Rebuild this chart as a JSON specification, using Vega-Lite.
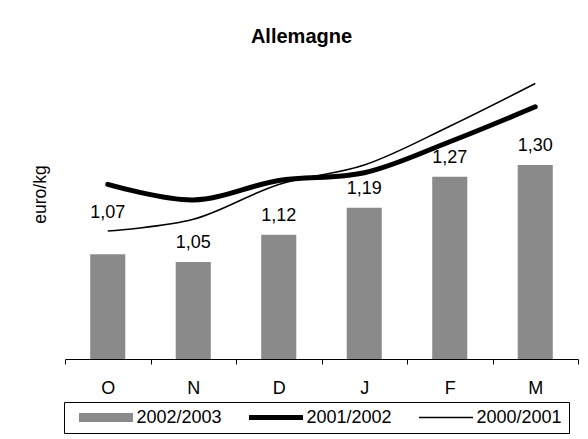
{
  "$schema": "https://vega.github.io/schema/vega-lite/v6.json",
  "width": 513,
  "height": 291,
  "autosize": {"type": "none"},
  "padding": {"left": 65, "top": 68, "right": 10, "bottom": 80},
  "background": "white",
  "title": {
    "text": "Allemagne",
    "fontSize": 20,
    "fontWeight": "bold",
    "font": "Liberation Sans",
    "color": "black",
    "anchor": "middle",
    "frame": "group",
    "dx": -20,
    "offset": 5,
    "baseline": "alphabetic"
  },
  "config": {
    "font": "Liberation Sans",
    "view": {"stroke": null},
    "locale": {"number": {"decimal": ",", "thousands": ".", "grouping": [3], "currency": ["", "€"]}}
  },
  "data": {
    "values": [
      {"month": "O", "series": "2002/2003", "value": 1.07},
      {"month": "N", "series": "2002/2003", "value": 1.05},
      {"month": "D", "series": "2002/2003", "value": 1.12},
      {"month": "J", "series": "2002/2003", "value": 1.19},
      {"month": "F", "series": "2002/2003", "value": 1.27},
      {"month": "M", "series": "2002/2003", "value": 1.30},
      {"month": "O", "series": "2001/2002", "value": 1.25},
      {"month": "N", "series": "2001/2002", "value": 1.21},
      {"month": "D", "series": "2001/2002", "value": 1.26},
      {"month": "J", "series": "2001/2002", "value": 1.28},
      {"month": "F", "series": "2001/2002", "value": 1.36},
      {"month": "M", "series": "2001/2002", "value": 1.45},
      {"month": "O", "series": "2000/2001", "value": 1.13},
      {"month": "N", "series": "2000/2001", "value": 1.16},
      {"month": "D", "series": "2000/2001", "value": 1.25},
      {"month": "J", "series": "2000/2001", "value": 1.30},
      {"month": "F", "series": "2000/2001", "value": 1.40},
      {"month": "M", "series": "2000/2001", "value": 1.51}
    ]
  },
  "encoding": {
    "x": {
      "field": "month",
      "type": "nominal",
      "sort": ["O", "N", "D", "J", "F", "M"],
      "scale": {"paddingInner": 0, "paddingOuter": 0},
      "axis": {
        "title": null,
        "labelAngle": 0,
        "labelFontSize": 18,
        "labelColor": "black",
        "labelPadding": 15,
        "domainColor": "black",
        "domainWidth": 1,
        "tickColor": "black",
        "tickWidth": 1,
        "tickSize": 5,
        "tickBand": "extent"
      }
    },
    "y": {
      "field": "value",
      "type": "quantitative",
      "scale": {"domain": [0.8, 1.55], "clamp": true, "zero": false, "nice": false},
      "axis": {
        "title": "euro/kg",
        "domain": false,
        "ticks": false,
        "labels": false,
        "grid": false,
        "titleFontSize": 17.5,
        "titleFontWeight": "normal",
        "titleColor": "black",
        "titleX": -20,
        "titleY": 126,
        "titleAngle": -90,
        "titleAlign": "center",
        "titleBaseline": "alphabetic"
      }
    }
  },
  "layer": [
    {
      "transform": [{"filter": "datum.series === '2002/2003'"}],
      "mark": {"type": "bar", "width": {"band": 0.41}},
      "encoding": {
        "color": {
          "field": "series",
          "type": "nominal",
          "scale": {"domain": ["2002/2003", "2001/2002", "2000/2001"], "range": ["#8a8a8a", "black", "black"]},
          "legend": {
            "title": null,
            "orient": "none",
            "legendX": -1,
            "legendY": 334,
            "direction": "horizontal",
            "strokeColor": "black",
            "fillColor": "white",
            "padding": 6.5,
            "labelFontSize": 18,
            "labelColor": "black",
            "labelFont": "Liberation Sans",
            "labelLimit": 200,
            "symbolSize": 2916,
            "symbolStrokeWidth": 0,
            "symbolOffset": 8.5,
            "labelOffset": 3.5,
            "columnPadding": 18,
            "clipHeight": 18,
            "encode": {
              "symbols": {
                "update": {
                  "shape": {"signal": "datum.value === '2002/2003' ? 'M-1,-0.17H1V0.17H-1Z' : (datum.value === '2001/2002' ? 'M-1,-0.093H1V0.093H-1Z' : 'M-1,-0.028H1V0.028H-1Z')"},
                  "fill": {"signal": "datum.value === '2002/2003' ? '#8a8a8a' : 'black'"},
                  "strokeWidth": {"value": 0},
                  "opacity": {"value": 1}
                }
              }
            }
          }
        }
      }
    },
    {
      "transform": [{"filter": "datum.series === '2002/2003' && datum.month !== 'O'"}],
      "mark": {"type": "text", "dy": -14, "baseline": "alphabetic", "fontSize": 18, "color": "black"},
      "encoding": {"text": {"field": "value", "type": "quantitative", "format": ".2f"}}
    },
    {
      "transform": [{"filter": "datum.series === '2002/2003' && datum.month === 'O'"}],
      "mark": {"type": "text", "dy": -36, "baseline": "alphabetic", "fontSize": 18, "color": "black"},
      "encoding": {"text": {"field": "value", "type": "quantitative", "format": ".2f"}}
    },
    {
      "transform": [{"filter": "datum.series === '2001/2002'"}],
      "mark": {"type": "line", "strokeWidth": 5, "interpolate": "catmull-rom", "strokeCap": "round"},
      "encoding": {"color": {"field": "series", "type": "nominal"}}
    },
    {
      "transform": [{"filter": "datum.series === '2000/2001'"}],
      "mark": {"type": "line", "strokeWidth": 1.6, "interpolate": "catmull-rom"},
      "encoding": {"color": {"field": "series", "type": "nominal"}}
    }
  ]
}
